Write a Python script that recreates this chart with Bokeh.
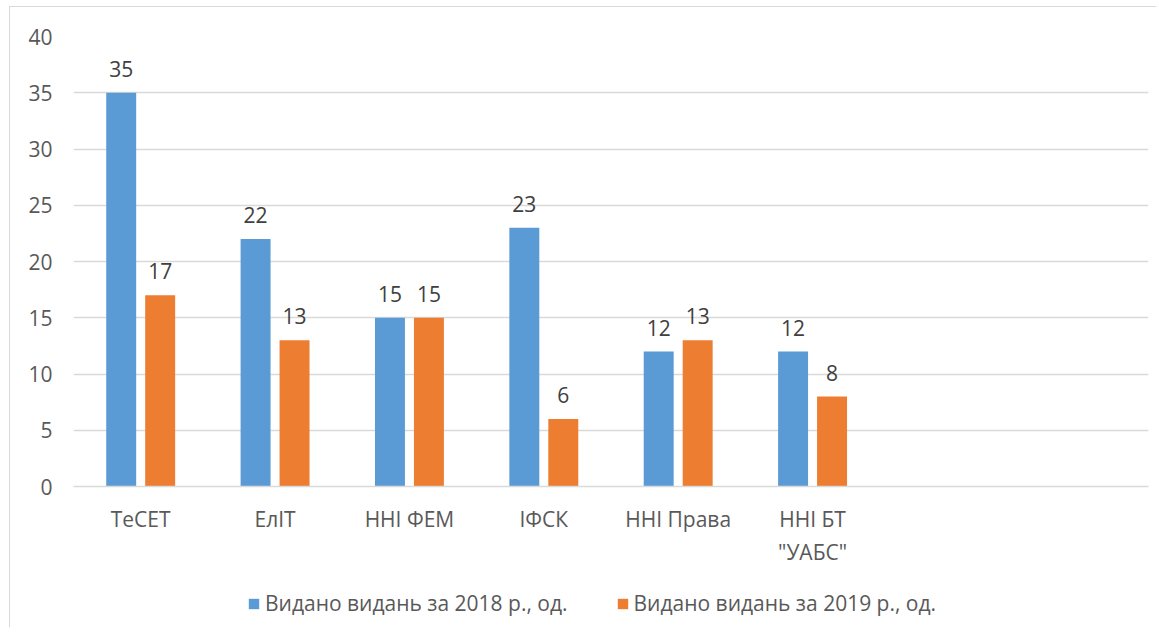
from bokeh.plotting import figure
from bokeh.layouts import column
from bokeh.models import ColumnDataSource, FactorRange, Legend, LegendItem, FixedTicker, Range1d
from bokeh.transform import dodge
from bokeh.core.properties import value
from bokeh.embed import file_html
from bokeh.resources import INLINE

categories = ["ТеСЕТ", "ЕлІТ", "ННІ ФЕМ", "ІФСК", "ННІ Права", "ННІ БТ\n\"УАБС\""]
empty_slots = [" ", "  "]
values_2018 = [35, 22, 15, 23, 12, 12]
values_2019 = [17, 13, 15, 6, 13, 8]
series_names = ["Видано видань за 2018 р., од.", "Видано видань за 2019 р., од."]
y_ticks = [0, 5, 10, 15, 20, 25, 30, 35, 40]

FONT = "Open Sans"
FS = "21px"
BLUE = "#5B9BD5"
ORANGE = "#ED7D31"
TXT = "#595959"

src = ColumnDataSource(dict(
    cat=categories,
    v18=values_2018,
    v19=values_2019,
    l18=[str(v) for v in values_2018],
    l19=[str(v) for v in values_2019],
))

xr = FactorRange(factors=categories + empty_slots)

p = figure(
    x_range=xr, y_range=(0, 40),
    width=1146, height=570,
    output_backend="svg", toolbar_location=None,
    min_border_left=63, min_border_right=8, min_border_top=29, min_border_bottom=91,
)
p.outline_line_color = None
p.background_fill_color = "white"
p.border_fill_color = "white"

p.vbar(x=dodge("cat", -0.145, range=xr), top="v18", width=0.223, source=src,
       fill_color=BLUE, line_color=None)
p.vbar(x=dodge("cat", 0.145, range=xr), top="v19", width=0.223, source=src,
       fill_color=ORANGE, line_color=None)

p.text(x=dodge("cat", -0.145, range=xr), y="v18", text="l18", source=src,
       text_align="center", text_baseline="alphabetic", y_offset=-24,
       text_font=value(FONT), text_font_size=FS, text_color="#404040")
p.text(x=dodge("cat", 0.145, range=xr), y="v19", text="l19", source=src,
       text_align="center", text_baseline="alphabetic", y_offset=-24,
       text_font=value(FONT), text_font_size=FS, text_color="#404040")

p.yaxis.ticker = FixedTicker(ticks=y_ticks)
p.yaxis.axis_line_color = None
p.yaxis.major_tick_line_color = None
p.yaxis.minor_tick_line_color = None
p.yaxis.major_label_text_font = FONT
p.yaxis.major_label_text_font_size = FS
p.yaxis.major_label_text_color = TXT
p.yaxis.major_label_standoff = 15

p.xaxis.axis_line_color = "#d9d9d9"
p.xaxis.axis_line_width = 1.5
p.xaxis.major_tick_line_color = None
p.xaxis.minor_tick_line_color = None
p.xaxis.major_label_text_font = FONT
p.xaxis.major_label_text_font_size = FS
p.xaxis.major_label_text_color = TXT
p.xaxis.major_label_standoff = 12

p.xgrid.grid_line_color = None
p.ygrid.grid_line_color = "#d9d9d9"
p.ygrid.grid_line_width = 1.5

# legend strip: same bars, drawn out of view so only the legend shows
p2 = figure(
    x_range=xr, y_range=Range1d(100, 101),
    width=1146, height=50,
    output_backend="svg", toolbar_location=None,
    x_axis_location=None, y_axis_location=None,
    min_border=0, min_border_left=0, min_border_right=0, min_border_top=0, min_border_bottom=0,
)
p2.outline_line_color = None
p2.xgrid.grid_line_color = None
p2.ygrid.grid_line_color = None
p2.border_fill_color = "white"
q18 = p2.vbar(x=dodge("cat", -0.145, range=xr), top="v18", width=0.223, source=src,
              fill_color=BLUE, line_color=None)
q19 = p2.vbar(x=dodge("cat", 0.145, range=xr), top="v19", width=0.223, source=src,
              fill_color=ORANGE, line_color=None)

legend = Legend(items=[LegendItem(label=series_names[0], renderers=[q18]),
                       LegendItem(label=series_names[1], renderers=[q19])],
                orientation="horizontal", location=(174, 10),
                label_text_font=FONT, label_text_font_size=FS, label_text_color=TXT,
                glyph_width=13, glyph_height=13, spacing=48, border_line_color=None,
                background_fill_alpha=0, margin=0, padding=0, label_standoff=5)
p2.add_layout(legend, "center")

layout = column(p, p2, spacing=0)
layout.styles = {"border-left": "1.5px solid #d9d9d9", "border-top": "1.5px solid #d9d9d9",
                 "margin-left": "9px", "margin-top": "6px"}

open("out.html", "w").write(file_html(layout, INLINE))
